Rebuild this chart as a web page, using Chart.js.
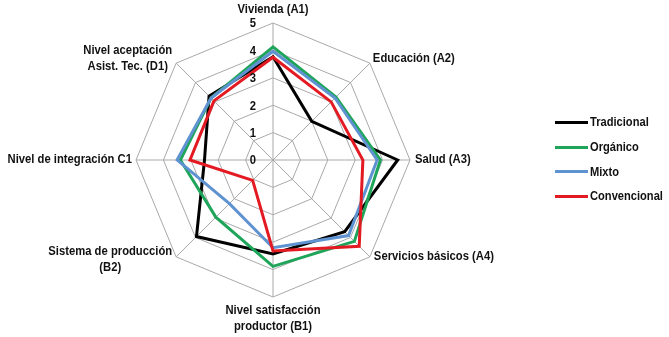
<!DOCTYPE html>
<html>
<head>
<meta charset="utf-8">
<script src="https://cdn.jsdelivr.net/npm/chart.js@4.4.0/dist/chart.umd.min.js"></script>
<style>
  html, body { margin: 0; padding: 0; background: #fff; }
  #wrap { position: relative; width: 669px; height: 337px; }
  #legend { position: absolute; left: 555px; top: 110px; font: bold 12.5px "Liberation Sans", Arial, sans-serif; color: #111; }
  .item { display: flex; align-items: center; height: 24.7px; white-space: nowrap; }
  .swatch { width: 33px; height: 3px; margin-right: 2px; }
  .name { display: inline-block; transform: scaleX(0.89); transform-origin: left center; }
</style>
</head>
<body>
<div id="wrap">
  <canvas id="radar" width="669" height="337"></canvas>
  <div id="legend"></div>
</div>
<script>
// ── data ────────────────────────────────────────────────
const axisLabels = [
  ["Vivienda (A1)"],
  ["Educación (A2)"],
  ["Salud (A3)"],
  ["Servicios básicos (A4)"],
  ["Nivel satisfacción", "productor (B1)"],
  ["Sistema de producción", "(B2)"],
  ["Nivel de integración C1"],
  ["Nivel aceptación", "Asist. Tec. (D1)"],
];
const tickLabels = ["0", "1", "2", "3", "4", "5"];

const tradicional  = [3.77, 2.0, 4.55, 3.7, 3.43, 3.95, 2.5, 3.3];
const organico     = [4.13, 3.25, 3.92, 4.2, 3.88, 2.95, 3.38, 3.2];
const mixto        = [3.97, 3.2, 3.8, 3.9, 3.2, 2.25, 3.5, 3.2];
const convencional = [3.75, 3.0, 3.28, 4.45, 3.32, 1.05, 3.03, 3.05];

const seriesNames  = ["Tradicional", "Orgánico", "Mixto", "Convencional"];
const seriesColors = ["#000000", "#1fa55a", "#5f92d0", "#e41a22"];

const FONT = 'bold 12.5px "Liberation Sans", Arial, sans-serif';
const SQUEEZE = 0.9;   // no narrow font installed, so squash a regular one

// ── label placement (relative to outer vertex) ──────────
const labelPlace = [
  { align: "center", dx: 0,  dy: -13 },
  { align: "left",   dx: 3,  dy: -5 },
  { align: "left",   dx: 5,  dy: 0 },
  { align: "left",   dx: 4,  dy: 0 },
  { align: "center", dx: 0,  dy: 14 },
  { align: "right",  dx: -4, dy: -5 },
  { align: "right",  dx: -4, dy: 0 },
  { align: "right",  dx: -4, dy: -13 },
];

function narrowText(ctx, text, cx, y) {
  ctx.save();
  ctx.translate(cx, y);
  ctx.scale(SQUEEZE, 1);
  ctx.fillText(text, 0, 0);
  ctx.restore();
}

const labelsPlugin = {
  id: "axisText",
  afterDraw(chart) {
    const scale = chart.scales.r;
    const ctx = chart.ctx;
    ctx.save();
    ctx.fillStyle = "#111";
    ctx.textBaseline = "middle";
    ctx.textAlign = "center";
    ctx.font = FONT;

    // tick numbers, left of the vertical axis
    tickLabels.forEach((t) => {
      const d = scale.getDistanceFromCenterForValue(+t);
      narrowText(ctx, t, scale.xCenter - 20, scale.yCenter - d + 1);
    });

    // axis names
    axisLabels.forEach((lines, i) => {
      const p = scale.getPointPosition(i, scale.drawingArea);
      const pl = labelPlace[i];
      const w = Math.max(...lines.map((l) => ctx.measureText(l).width)) * SQUEEZE;
      let cx;
      if (pl.align === "center") cx = p.x + pl.dx;
      else if (pl.align === "left") cx = p.x + pl.dx + w / 2;
      else cx = p.x + pl.dx - w / 2;
      lines.forEach((l, j) => narrowText(ctx, l, cx, p.y + pl.dy + j * 16));
    });
    ctx.restore();
  },
};

const allSeries = [tradicional, organico, mixto, convencional];
const datasets = allSeries.map((data, i) => ({
  label: seriesNames[i],
  data,
  borderColor: seriesColors[i],
  backgroundColor: "transparent",
  borderWidth: 3,
  pointRadius: 0,
  fill: false,
  order: 4 - i,   // Convencional on top, like the original
}));

new Chart(document.getElementById("radar"), {
  type: "radar",
  data: { labels: axisLabels.map((l) => l.join(" ")), datasets },
  options: {
    responsive: false,
    animation: false,
    layout: { padding: { left: 0, right: 123, top: 23, bottom: 40 } },
    elements: { line: { tension: 0, borderJoinStyle: "miter" } },
    plugins: { legend: { display: false }, tooltip: { enabled: false } },
    scales: {
      r: {
        min: 0,
        max: 5,
        ticks: { display: false, stepSize: 1 },
        pointLabels: { display: false },
        grid: { circular: false, color: "#a9a9a9", lineWidth: 1 },
        angleLines: { color: "#a9a9a9", lineWidth: 1 },
      },
    },
  },
  plugins: [labelsPlugin],
});

// ── legend ──────────────────────────────────────────────
const legend = document.getElementById("legend");
seriesNames.forEach((name, i) => {
  const row = document.createElement("div");
  row.className = "item";
  row.innerHTML = `<span class="swatch" style="background:${seriesColors[i]}"></span><span class="name">${name}</span>`;
  legend.appendChild(row);
});
</script>
</body>
</html>
